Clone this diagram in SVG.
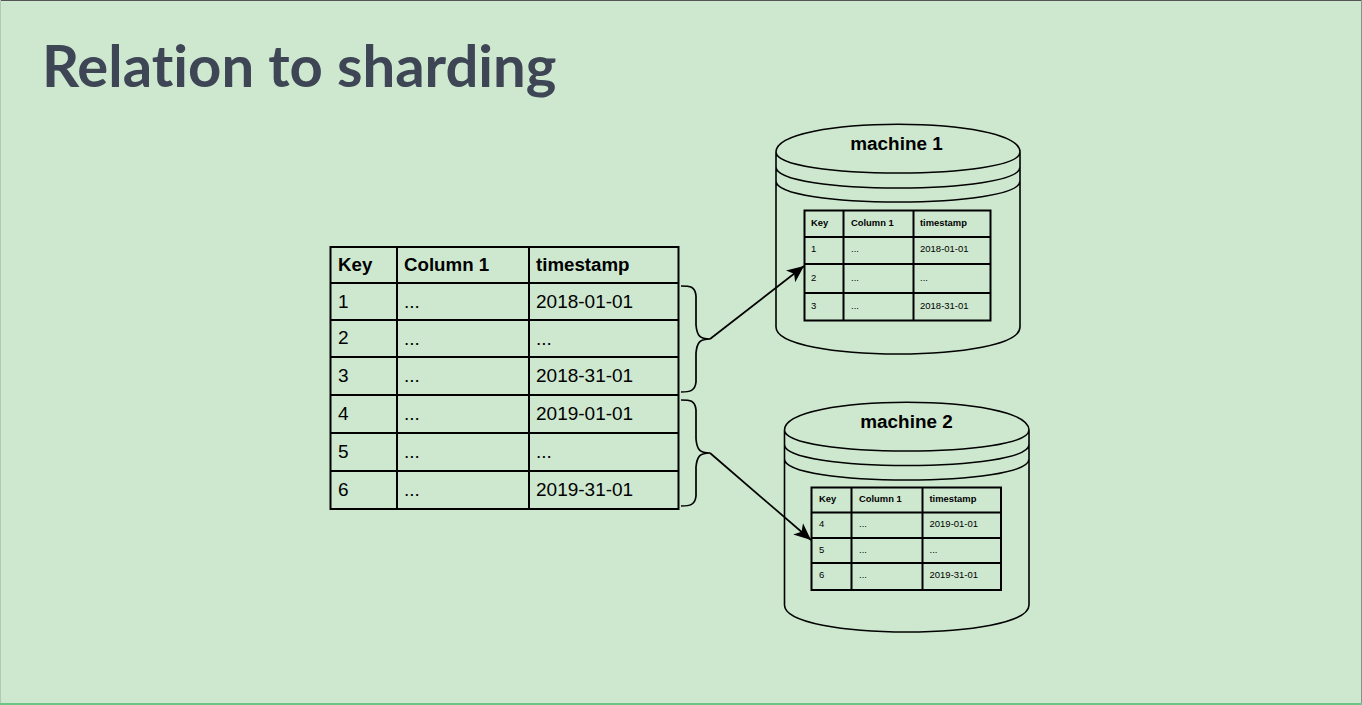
<svg xmlns="http://www.w3.org/2000/svg" width="1362" height="705" viewBox="0 0 1362 705">
<style>
.s{fill:none;stroke:#000;stroke-width:1.6}
.g{fill:none;stroke:#000;stroke-width:2}
.c{fill:none;stroke:#000;stroke-width:1.7}
text{font-family:"Liberation Sans",Arial,sans-serif;fill:#000}
.l{font-size:19px}.lb{font-size:18.7px;font-weight:bold}
.m{font-size:9.5px}.mb{font-size:9.4px;font-weight:bold}
.h{font-size:18.9px;font-weight:bold;text-anchor:middle}
</style>
<defs><marker id="a" markerUnits="userSpaceOnUse" markerWidth="20" markerHeight="18" refX="17" refY="9" orient="auto"><path d="M0 1.500 L17 9 L0 16.500 L4.500 9Z" fill="#000"/></marker></defs>
<rect width="1362" height="705" fill="#cde8cf"/>
<rect width="1362" height="1" fill="#555"/>
<rect x="0" width="1" height="705" fill="#b5c8b8"/>
<rect x="1361" width="1" height="705" fill="#8a928b"/>
<rect y="703" width="1362" height="2" fill="#6cc586"/>
<text id="title" x="42" y="87" style="font-family:Lato,sans-serif;font-size:58px;font-weight:bold;fill:#3e4555;font-variant-ligatures:none">Relation to sharding</text>
<g id="source-table">
<path class="g" d="M330.500 247H678.500V509H330.500ZM330.500 283H678.500M330.500 320H678.500M330.500 357H678.500M330.500 395H678.500M330.500 433H678.500M330.500 471H678.500M397 247V509M529 247V509"/>
<text class="lb" x="338" y="271">Key</text><text class="lb" x="404" y="271">Column 1</text><text class="lb" x="536" y="271">timestamp</text>
<text class="l" x="338" y="308">1</text><text class="l" x="404" y="308">...</text><text class="l" x="536" y="308">2018-01-01</text>
<text class="l" x="338" y="344">2</text><text class="l" x="404" y="345">...</text><text class="l" x="536" y="345">...</text>
<text class="l" x="338" y="382">3</text><text class="l" x="404" y="382">...</text><text class="l" x="536" y="382">2018-31-01</text>
<text class="l" x="338" y="420">4</text><text class="l" x="404" y="420">...</text><text class="l" x="536" y="420">2019-01-01</text>
<text class="l" x="338" y="458">5</text><text class="l" x="404" y="458">...</text><text class="l" x="536" y="458">...</text>
<text class="l" x="338" y="496">6</text><text class="l" x="404" y="496">...</text><text class="l" x="536" y="496">2019-31-01</text>
</g>
<g id="machine-1">
<path class="s" d="M776 152C776 115 1020 115 1020 152V327C1020 363 776 363 776 327ZM776 152C776 180 1020 180 1020 152M776 167C776 195 1020 195 1020 167M776 181C776 209 1020 209 1020 181"/>
<text class="h" x="896.500" y="150">machine 1</text>
<path class="g" d="M804.500 210.500H990.500V320.500H804.500ZM804.500 237H990.500M804.500 264H990.500M804.500 293H990.500M843.500 210.500V320.500M913.500 210.500V320.500"/>
<text class="mb" x="811" y="226">Key</text><text class="mb" x="851" y="226">Column 1</text><text class="mb" x="920" y="226">timestamp</text>
<text class="m" x="811" y="252">1</text><text class="m" x="851" y="252">...</text><text class="m" x="920" y="252">2018-01-01</text>
<text class="m" x="811" y="281">2</text><text class="m" x="851" y="281">...</text><text class="m" x="920" y="281">...</text>
<text class="m" x="811" y="309">3</text><text class="m" x="851" y="309">...</text><text class="m" x="920" y="309">2018-31-01</text>
</g>
<g id="machine-2">
<path class="s" d="M784.500 430C784.500 393 1029 393 1029 430V605C1029 641 784.500 641 784.500 605ZM784.500 430C784.500 458 1029 458 1029 430M784.500 444.500C784.500 472.500 1029 472.500 1029 444.500M784.500 459C784.500 487 1029 487 1029 459"/>
<text class="h" x="906.500" y="428">machine 2</text>
<path class="g" d="M811.500 487.500H1001V590H811.500ZM811.500 512.500H1001M811.500 538H1001M811.500 563H1001M851.500 487.500V590M922.500 487.500V590"/>
<text class="mb" x="819" y="502">Key</text><text class="mb" x="859" y="502">Column 1</text><text class="mb" x="929.500" y="502">timestamp</text>
<text class="m" x="819" y="527">4</text><text class="m" x="859" y="527">...</text><text class="m" x="929.500" y="527">2019-01-01</text>
<text class="m" x="819" y="553">5</text><text class="m" x="859" y="553">...</text><text class="m" x="929.500" y="553">...</text>
<text class="m" x="819" y="578">6</text><text class="m" x="859" y="578">...</text><text class="m" x="929.500" y="578">2019-31-01</text>
</g>
<g id="connectors">
<path class="c" d="M681 286C690 286 695 286 696 296V325C697 336 700 339 710 339C700 339 697 342 696 353V382C695 391 690 392 681 392"/>
<path class="c" d="M681 400C690 400 695 400 696 410V439C697 450 700 453 710 453C700 453 697 456 696 467V496C695 505 690 506 681 506"/>
<path class="c" d="M710 339L804 266" marker-end="url(#a)"/>
<path class="c" d="M710 453L811 540" marker-end="url(#a)"/>
</g>
</svg>
